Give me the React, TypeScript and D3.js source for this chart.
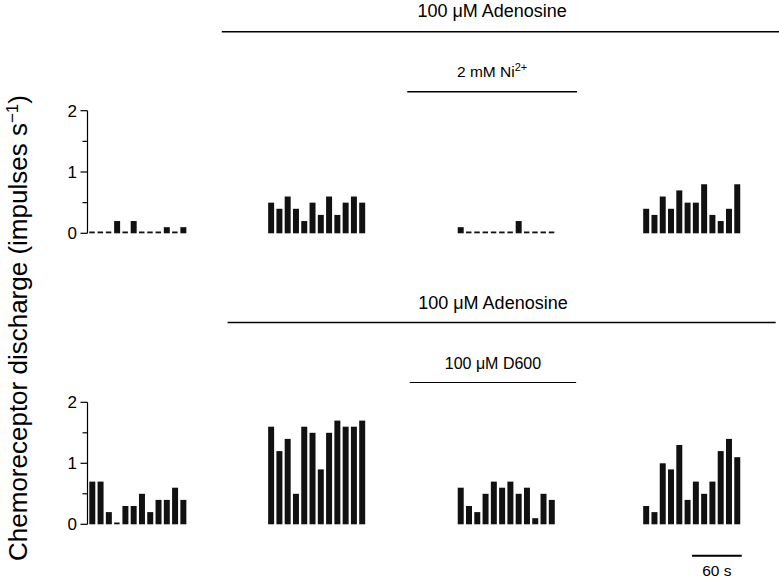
import React from "react";
import * as d3 from "d3";

// ---- data (impulses s^-1 in consecutive 10 s bins) ----
const binSeconds = 10;
const groupStartSeconds = [0, 216, 445, 669];
const yTicks = [0, 1, 2];
const yMinorTicks = [0.5, 1.5];

const topControl = [0, 0, 0, 0.2, 0, 0.2, 0, 0, 0, 0.1, 0, 0.1];
const topAdenosine = [0.5, 0.4, 0.6, 0.4, 0.2, 0.5, 0.3, 0.6, 0.3, 0.5, 0.6, 0.5];
const topAdenosineNi = [0.1, 0, 0, 0, 0, 0, 0, 0.2, 0, 0, 0, 0];
const topAdenosineRecovery = [0.4, 0.3, 0.6, 0.4, 0.7, 0.5, 0.5, 0.8, 0.3, 0.2, 0.4, 0.8];

const bottomControl = [0.7, 0.7, 0.2, 0, 0.3, 0.3, 0.5, 0.2, 0.4, 0.4, 0.6, 0.4];
const bottomAdenosine = [1.6, 1.2, 1.4, 0.5, 1.6, 1.5, 0.9, 1.5, 1.7, 1.6, 1.6, 1.7];
const bottomAdenosineD600 = [0.6, 0.3, 0.2, 0.5, 0.7, 0.6, 0.7, 0.5, 0.6, 0.1, 0.5, 0.4];
const bottomAdenosineRecovery = [0.3, 0.2, 1.0, 0.9, 1.3, 0.4, 0.7, 0.5, 0.7, 1.2, 1.4, 1.1];

const topGroups = [topControl, topAdenosine, topAdenosineNi, topAdenosineRecovery];
const bottomGroups = [bottomControl, bottomAdenosine, bottomAdenosineD600, bottomAdenosineRecovery];

// annotation bars [start s, end s]
const topAdenosineSpan = [161, 834];
const topNiSpan = [385, 590];
const bottomAdenosineSpan = [168, 830];
const bottomD600Span = [388, 589];
const scaleBarSpan = [729, 789];

const FONT = "'Liberation Sans', Arial, Helvetica, sans-serif";

const W = 779;
const H = 583;

const x = d3.scaleLinear().domain([0, 834]).range([88.5, 779]);
const yTop = d3.scaleLinear().domain([0, 2]).range([233.3, 110.7]);
const yBottom = d3.scaleLinear().domain([0, 2]).range([524.3, 402.3]);

function Panel({ groups, y }: { groups: number[][]; y: d3.ScaleLinear<number, number> }) {
  const axisX = 87.5;
  const slot = x(binSeconds) - x(0);
  const barW = slot - 2.3;
  return (
    <g>
      <line x1={axisX} x2={axisX} y1={y(0)} y2={y(2)} stroke="#000" strokeWidth={1.2} />
      {yTicks.map((t) => (
        <g key={"t" + t}>
          <line x1={axisX - 7} x2={axisX} y1={y(t)} y2={y(t)} stroke="#000" strokeWidth={1.2} />
          <text x={axisX - 10.5} y={y(t)} dy="0.36em" textAnchor="end" fontSize={17} fontFamily={FONT}>
            {t}
          </text>
        </g>
      ))}
      {yMinorTicks.map((t) => (
        <line key={"m" + t} x1={axisX - 5} x2={axisX} y1={y(t)} y2={y(t)} stroke="#000" strokeWidth={1.2} />
      ))}
      {groups.map((vals, gi) =>
        vals.map((v, i) => {
          const t0 = groupStartSeconds[gi] + i * binSeconds;
          const bx = x(t0) + 0.8;
          if (v === 0) {
            return <rect key={gi + "-" + i} x={bx} y={y(0) - 1.8} width={barW - 0.5} height={1.8} fill="#111" />;
          }
          return <rect key={gi + "-" + i} x={bx} y={y(v)} width={barW} height={y(0) - y(v)} fill="#111" />;
        })
      )}
    </g>
  );
}

function SpanLine({ span, yPos, w }: { span: number[]; yPos: number; w: number }) {
  return <line x1={x(span[0])} x2={Math.min(x(span[1]), W)} y1={yPos} y2={yPos} stroke="#000" strokeWidth={w} />;
}

export default function App() {
  const niMid = (x(topNiSpan[0]) + x(topNiSpan[1])) / 2;
  const d6Mid = (x(bottomD600Span[0]) + x(bottomD600Span[1])) / 2;
  const sbMid = (x(scaleBarSpan[0]) + x(scaleBarSpan[1])) / 2;
  return (
    <svg
      width={W}
      height={H}
      style={{ position: "absolute", left: 0, top: 0, background: "#fff" }}
      fontFamily={FONT}
    >
      <rect width={W} height={H} fill="#fff" />
      {/* top annotations */}
      <text x={niMid} y={17.3} textAnchor="middle" fontSize={18}>
        100 μM Adenosine
      </text>
      <SpanLine span={topAdenosineSpan} yPos={31.7} w={1.4} />
      <text x={niMid} y={77.3} textAnchor="middle" fontSize={15.5}>
        2 mM Ni<tspan dy={-6} fontSize={11}>2+</tspan>
      </text>
      <SpanLine span={topNiSpan} yPos={91.7} w={1.6} />

      {/* bottom annotations */}
      <text x={d6Mid} y={308.8} textAnchor="middle" fontSize={18}>
        100 μM Adenosine
      </text>
      <SpanLine span={bottomAdenosineSpan} yPos={322.5} w={1.4} />
      <text x={d6Mid} y={368.5} textAnchor="middle" fontSize={16}>
        100 μM D600
      </text>
      <SpanLine span={bottomD600Span} yPos={382.5} w={1.2} />

      <Panel groups={topGroups} y={yTop} />
      <Panel groups={bottomGroups} y={yBottom} />

      {/* scale bar */}
      <SpanLine span={scaleBarSpan} yPos={555.7} w={2} />
      <text x={sbMid} y={576} textAnchor="middle" fontSize={15.5}>
        60 s
      </text>

      {/* y label */}
      <text transform="translate(27,328) rotate(-90)" textAnchor="middle" fontSize={26}>
        Chemoreceptor discharge (impulses s<tspan dy={-9} fontSize={17}>−1</tspan>
        <tspan dy={9}>)</tspan>
      </text>
    </svg>
  );
}
